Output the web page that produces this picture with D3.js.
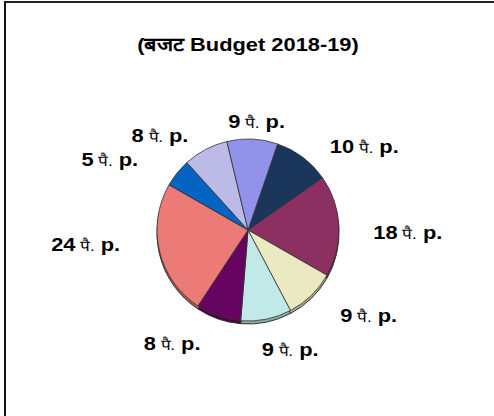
<!DOCTYPE html>
<html>
<head>
<meta charset="utf-8">
<script src="https://cdn.jsdelivr.net/npm/d3@7"></script>
<style>
  body { margin: 0; background: #fff; }
  text { font-family: "Liberation Sans", Arial, sans-serif; }
</style>
</head>
<body>
<svg id="drawing_region"></svg>
<script>
// budget rupee breakdown, paise per rupee (clockwise from the top-right)
const slices = ["navy", "maroon", "yellow", "cyan", "purple", "salmon", "blue", "lavender", "periwinkle"];
const paise = [10, 18, 9, 9, 8, 24, 5, 8, 9];
const colors = ["#1b365b", "#8b3060", "#ebe9c2", "#c0e9e8", "#650561", "#ec7a77", "#0563c1", "#bcbbe8", "#9292ea"];
const title = "(बजट Budget 2018-19)";

// manual label nudges, like dragging the labels in a spreadsheet
const labelNudge = [[35, 24], [25, 8], [27, -12], [15, -13], [-32, -15], [-31, -17], [-33, 14], [-25, 24], [2, 26]];

const config = {
    width: 494,
    height: 416,
    cx: 248,
    cy: 230,
    radius: 91,
    depth: 3,
    labelRadius: 135,
    startAngle: 19 * Math.PI / 180,
    stretch: 1.15   // the original image is a bit wider than tall
};

const svg = d3.select('#drawing_region')
    .attr('width', config.width)
    .attr('height', config.height);

// frame (only top and left edges show)
svg.append('line')
    .attr('x1', 4).attr('y1', 2).attr('x2', config.width).attr('y2', 2)
    .attr('stroke', '#222').attr('stroke-width', 2);
svg.append('line')
    .attr('x1', 5).attr('y1', 1).attr('x2', 5).attr('y2', config.height)
    .attr('stroke', '#111').attr('stroke-width', 2);

svg.append('g')
    .attr('transform', `translate(248, 51) scale(${config.stretch}, 1)`)
    .append('text')
    .attr('text-anchor', 'middle')
    .attr('font-size', '19px')
    .attr('font-weight', 'bold')
    .attr('fill', '#000')
    .text(title);

const pie = d3.pie()
    .sort(null)
    .value(d => d)
    .startAngle(config.startAngle)
    .endAngle(config.startAngle + 2 * Math.PI);

const arcs = pie(paise);

const arc = d3.arc()
    .innerRadius(0)
    .outerRadius(config.radius);

const chart = svg.append('g')
    .attr('transform', `translate(${config.cx}, ${config.cy})`);

// thin 3d edge under the pie
chart.append('g')
    .attr('transform', `translate(0, ${config.depth})`)
    .selectAll('path')
    .data(arcs)
    .enter()
    .append('path')
    .attr('d', arc)
    .attr('fill', (d, i) => d3.color(colors[i]).darker(0.9))
    .attr('stroke', '#333')
    .attr('stroke-width', 1);

chart.append('g')
    .selectAll('path')
    .data(arcs)
    .enter()
    .append('path')
    .attr('d', arc)
    .attr('fill', (d, i) => colors[i])
    .attr('stroke', '#333')
    .attr('stroke-width', 0.8);

const labelArc = d3.arc()
    .innerRadius(config.labelRadius)
    .outerRadius(config.labelRadius);

const labels = chart.append('g')
    .selectAll('g')
    .data(arcs)
    .enter()
    .append('g')
    .attr('transform', (d, i) => {
        const c = labelArc.centroid(d);
        return `translate(${c[0] + labelNudge[i][0]}, ${c[1] + labelNudge[i][1] + 7}) scale(${config.stretch}, 1)`;
    })
    .append('text')
    .attr('text-anchor', 'middle')
    .attr('fill', '#000');

labels.append('tspan')
    .attr('font-size', '19px')
    .attr('font-weight', 'bold')
    .text(d => d.data);
labels.append('tspan')
    .attr('font-size', '15px')
    .text(' पै.');
labels.append('tspan')
    .attr('font-size', '19px')
    .attr('font-weight', 'bold')
    .text(' p.');
</script>
</body>
</html>
